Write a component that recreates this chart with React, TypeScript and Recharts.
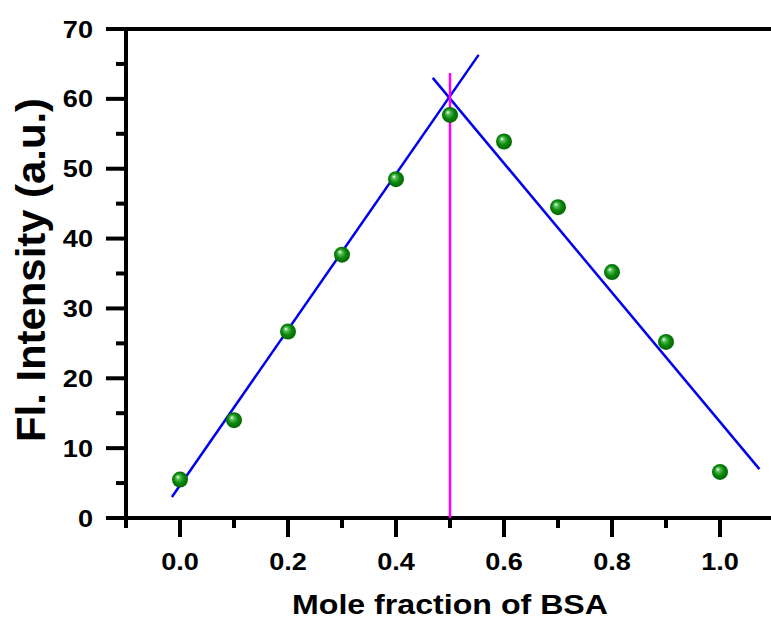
import React from "react";
import {
  ScatterChart,
  Scatter,
  XAxis,
  YAxis,
  ReferenceLine,
} from "recharts";

// measured points (mole fraction of BSA vs fluorescence intensity)
const moleFraction = [0, 0.1, 0.2, 0.3, 0.4, 0.5, 0.6, 0.7, 0.8, 0.9, 1.0];
const intensity = [5.5, 14.0, 26.7, 37.7, 48.5, 57.7, 53.9, 44.5, 35.2, 25.2, 6.6];

// two linear fits and the marker at the crossing
const riseX = [-0.015, 0.553];
const riseY = [3.0, 66.3];
const fallX = [0.468, 1.073];
const fallY = [63.0, 7.0];
const markX = [0.5, 0.5];
const markY = [0, 63.7];

const xTicks = [-0.1, 0, 0.1, 0.2, 0.3, 0.4, 0.5, 0.6, 0.7, 0.8, 0.9, 1.0, 1.1];
const yTicks = [0, 5, 10, 15, 20, 25, 30, 35, 40, 45, 50, 55, 60, 65, 70];

const FONT = '"Liberation Sans", Arial, sans-serif';

const toPts = (xs: number[], ys: number[]) => xs.map((x, i) => ({ x, y: ys[i] }));

const points = toPts(moleFraction, intensity);
const rise = toPts(riseX, riseY);
const fall = toPts(fallX, fallY);
const mark = toPts(markX, markY);

const isMajorX = (v: number) => Math.round(v * 10) % 2 === 0;

function XTick(props: any) {
  const { x, y, payload } = props;
  const v = payload.value as number;
  const major = isMajorX(v) && v >= 0 && v <= 1.0;
  return (
    <g>
      <line x1={x} x2={x} y1={y} y2={y + (major ? 19 : 10)} stroke="#000" strokeWidth={4} />
      {major && (
        <text
          transform={`translate(${x},${y + 52}) scale(1.13,1)`}
          textAnchor="middle"
          fontFamily={FONT}
          fontWeight="bold"
          fontSize={24}
          fill="#000"
        >
          {v.toFixed(1)}
        </text>
      )}
    </g>
  );
}

function YTick(props: any) {
  const { x, y, payload } = props;
  const v = payload.value as number;
  const major = v % 10 === 0;
  return (
    <g>
      <line x1={x - (major ? 20 : 10)} x2={x} y1={y} y2={y} stroke="#000" strokeWidth={4} />
      {major && (
        <text
          transform={`translate(${x - 33},${y + 8.5}) scale(1.13,1)`}
          textAnchor="end"
          fontFamily={FONT}
          fontWeight="bold"
          fontSize={24}
          fill="#000"
        >
          {v}
        </text>
      )}
    </g>
  );
}

function Ball(props: any) {
  const { cx, cy, index } = props;
  const id = `ball-${index}`;
  return (
    <g>
      <defs>
        <radialGradient id={id} cx="50%" cy="50%" r="55%" fx="35%" fy="32%">
          <stop offset="0%" stopColor="#ffffff" />
          <stop offset="22%" stopColor="#5cc05c" />
          <stop offset="55%" stopColor="#0c8a0c" />
          <stop offset="100%" stopColor="#035e03" />
        </radialGradient>
      </defs>
      <circle cx={cx} cy={cy} r={8} fill={`url(#${id})`} />
    </g>
  );
}

const NoDot = () => <g />;

export default function App() {
  return (
    <div style={{ position: "absolute", left: 0, top: 0, width: 771, height: 621, overflow: "hidden", background: "#fff" }}>
      <ScatterChart width={774} height={621} margin={{ top: 29, right: 0, bottom: 0, left: 0 }}>
        <XAxis
          type="number"
          dataKey="x"
          domain={[-0.1, 1.1]}
          ticks={xTicks}
          interval={0}
          tick={<XTick />}
          tickLine={false}
          tickSize={0}
          tickMargin={0}
          axisLine={{ stroke: "#000", strokeWidth: 4 }}
          height={103}
          allowDataOverflow
          label={{
            content: (p: any) => {
              const vb = p.viewBox;
              return (
                <text
                  x={vb.x + vb.width / 2}
                  y={614}
                  textAnchor="middle"
                  fontFamily={FONT}
                  fontWeight="bold"
                  fontSize={28}
                  textLength={316}
                  lengthAdjust="spacingAndGlyphs"
                  fill="#000"
                >
                  Mole fraction of BSA
                </text>
              );
            },
          }}
        />
        <YAxis
          type="number"
          dataKey="y"
          domain={[0, 70]}
          ticks={yTicks}
          interval={0}
          tick={<YTick />}
          tickLine={false}
          tickSize={0}
          tickMargin={0}
          axisLine={{ stroke: "#000", strokeWidth: 4 }}
          width={126}
          allowDataOverflow
          label={{
            content: () => (
              <text
                transform="translate(45,270) rotate(-90)"
                textAnchor="middle"
                fontFamily={FONT}
                fontWeight="bold"
                fontSize={40}
                textLength={344}
                lengthAdjust="spacingAndGlyphs"
                fill="#000"
              >
                Fl. Intensity (a.u.)
              </text>
            ),
          }}
        />
        <ReferenceLine y={70} stroke="#000" strokeWidth={4} />
        <Scatter data={rise} line={{ stroke: "#0000ee", strokeWidth: 2.5 }} shape={NoDot} isAnimationActive={false} />
        <Scatter data={fall} line={{ stroke: "#0000ee", strokeWidth: 2.5 }} shape={NoDot} isAnimationActive={false} />
        <Scatter data={mark} line={{ stroke: "#ff00ff", strokeWidth: 2.5 }} shape={NoDot} isAnimationActive={false} />
        <Scatter data={points} shape={<Ball />} isAnimationActive={false} />
      </ScatterChart>
    </div>
  );
}
